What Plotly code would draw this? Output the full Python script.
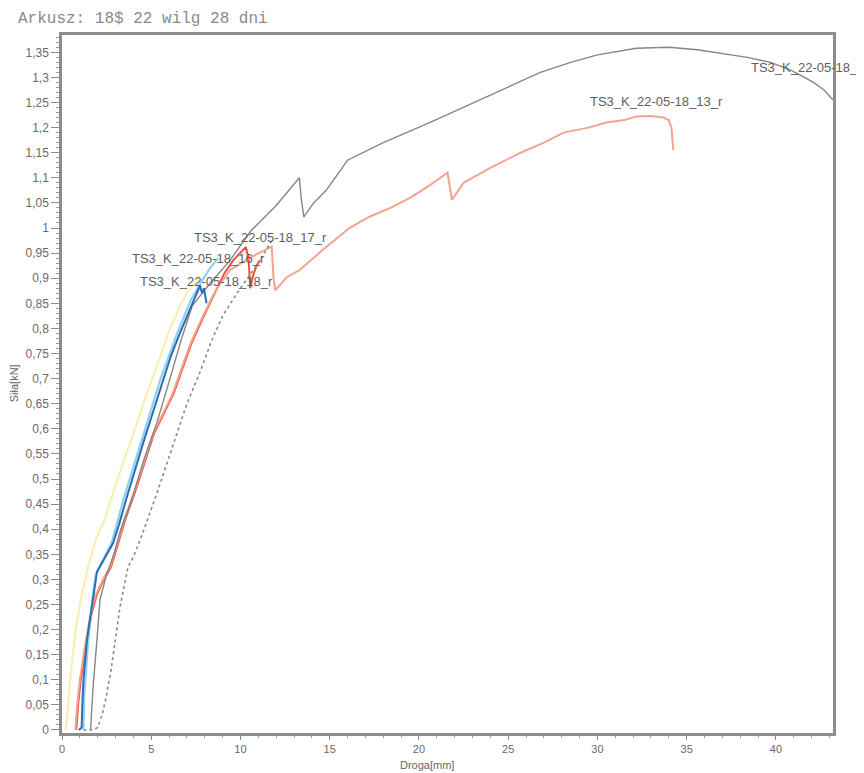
import plotly.graph_objects as go

# ---- data ----
yellow_x = [0.2, 0.3, 0.45, 0.73, 1.05, 1.46, 1.9, 2.4, 2.8, 3.4, 4.0, 4.65, 5.3, 5.95, 6.6, 7.0, 7.4, 7.7]
yellow_y = [0.0, 0.03, 0.1, 0.19, 0.26, 0.325, 0.38, 0.42, 0.465, 0.53, 0.59, 0.66, 0.723, 0.79, 0.845, 0.87, 0.89, 0.905]

red_x = [0.8, 0.9, 1.05, 1.35, 1.65, 1.95, 2.35, 2.75, 3.05, 3.55, 4.15, 5.15, 6.25, 7.25, 7.95, 8.6, 9.1, 9.6,
         10.0, 10.3, 10.45, 10.5, 10.55, 10.7, 10.9, 11.1]
red_y = [0.0, 0.05, 0.1, 0.17, 0.23, 0.27, 0.3, 0.325, 0.36, 0.42, 0.48, 0.59, 0.67, 0.77, 0.825, 0.875, 0.91,
         0.936, 0.95, 0.962, 0.94, 0.9, 0.88, 0.905, 0.925, 0.936]

salmon_x = [0.75, 0.85, 1.0, 1.3, 1.6, 1.9, 2.3, 2.7, 3.0, 3.5, 4.1, 5.1, 6.2, 7.2, 7.9, 8.6, 9.4, 10.5, 11.3,
            11.75, 11.85, 11.95, 12.6, 13.3, 14.6, 16.1, 17.2, 18.4, 19.5, 20.6, 21.6, 21.75, 21.85, 22.5, 24.0,
            25.7, 27.0, 28.1, 29.5, 30.5, 31.5, 32.2, 33.0, 33.7, 34.0, 34.15, 34.2, 34.25]
salmon_y = [0.0, 0.05, 0.1, 0.17, 0.23, 0.27, 0.3, 0.325, 0.36, 0.42, 0.48, 0.59, 0.67, 0.77, 0.825, 0.875, 0.916,
            0.94, 0.955, 0.963, 0.9, 0.876, 0.902, 0.916, 0.956, 1.0, 1.022, 1.04, 1.06, 1.085, 1.11, 1.08, 1.056,
            1.09, 1.12, 1.15, 1.17, 1.19, 1.2, 1.21, 1.215, 1.222, 1.223, 1.22, 1.215, 1.2, 1.175, 1.155]

gray_x = [1.6, 1.75, 1.96, 2.13, 2.5, 2.86, 3.3, 3.9, 4.6, 5.3, 6.05, 6.7, 7.3, 8.3, 9.4, 10.6, 12.0, 12.8, 13.3,
          13.4, 13.55, 14.1, 14.8, 16.0, 18.0, 20.6, 23.4, 25.0, 26.8, 28.5, 30.0, 32.2, 34.0, 35.6, 37.0, 38.4,
          39.7, 40.8, 41.6, 42.1, 42.7, 43.2]
gray_y = [0.0, 0.09, 0.18, 0.26, 0.31, 0.345, 0.4, 0.458, 0.54, 0.61, 0.7, 0.78, 0.845, 0.89, 0.935, 0.995, 1.045,
          1.08, 1.1, 1.06, 1.022, 1.05, 1.075, 1.135, 1.17, 1.21, 1.255, 1.28, 1.31, 1.33, 1.345, 1.358, 1.36,
          1.355, 1.348, 1.34, 1.33, 1.315, 1.3, 1.29, 1.275, 1.255]

dotgray_x = [1.2, 1.7, 2.0, 2.25, 2.5, 2.75, 2.95, 3.25, 3.7, 4.0, 4.5, 5.3, 6.2, 7.0, 7.7, 8.4, 9.0, 9.8, 10.5,
             11.1, 11.5, 11.85]
dotgray_y = [0.0, 0.0, 0.005, 0.03, 0.07, 0.12, 0.17, 0.245, 0.325, 0.345, 0.39, 0.47, 0.565, 0.65, 0.71, 0.777,
             0.825, 0.87, 0.905, 0.936, 0.96, 0.98]

lightblue_x = [1.2, 1.25, 1.45, 1.7, 1.9, 2.3, 2.8, 3.45, 4.4, 5.5, 6.45, 7.2, 7.75, 8.3, 8.75]
lightblue_y = [0.0, 0.07, 0.17, 0.26, 0.31, 0.34, 0.375, 0.46, 0.572, 0.697, 0.79, 0.855, 0.89, 0.92, 0.94]

blue_x = [0.95, 1.1, 1.15, 1.2, 1.4, 1.6, 1.75, 1.96, 2.2, 2.45, 2.86, 3.2, 3.6, 4.55, 5.1, 5.67, 6.1, 6.6, 7.0,
          7.35, 7.73, 7.85, 7.95, 8.1]
blue_y = [0.0, 0.005, 0.06, 0.1, 0.18, 0.23, 0.265, 0.315, 0.33, 0.345, 0.372, 0.41, 0.46, 0.572, 0.635, 0.697,
          0.745, 0.79, 0.825, 0.855, 0.885, 0.87, 0.88, 0.85]

label_texts = ["TS3_K_22-05-18_17_r", "TS3_K_22-05-18_16_r", "TS3_K_22-05-18_18_r",
               "TS3_K_22-05-18_13_r", "TS3_K_22-05-18_"]
label_x = [11.1, 7.67, 8.07, 33.3, 38.5]
label_y = [0.982, 0.94, 0.894, 1.253, 1.319]
label_anchor = ["center", "center", "center", "center", "left"]

x_tickvals = [0, 5, 10, 15, 20, 25, 30, 35, 40]
x_ticktext = ["0", "5", "10", "15", "20", "25", "30", "35", "40"]
y_tickvals = [0, 0.05, 0.1, 0.15, 0.2, 0.25, 0.3, 0.35, 0.4, 0.45, 0.5, 0.55, 0.6, 0.65, 0.7,
              0.75, 0.8, 0.85, 0.9, 0.95, 1.0, 1.05, 1.1, 1.15, 1.2, 1.25, 1.3, 1.35]
y_ticktext = ["0", "0,05", "0,1", "0,15", "0,2", "0,25", "0,3", "0,35", "0,4", "0,45", "0,5", "0,55", "0,6",
              "0,65", "0,7", "0,75", "0,8", "0,85", "0,9", "0,95", "1", "1,05", "1,1", "1,15", "1,2", "1,25",
              "1,3", "1,35"]

title_text = "Arkusz: 18$ 22 wilg 28 dni"
x_title = "Droga[mm]"
y_title = "Siła[kN]"

# ---- figure ----
# The page body has an 8px margin, so the figure is 8px smaller than the window.
W, H = 856, 765
fig = go.Figure()

series = [
    (yellow_x, yellow_y, "#f8f0b0", 2.2, "solid"),
    (red_x, red_y, "#f0503a", 2.0, "solid"),
    (salmon_x, salmon_y, "#f3a38e", 2.0, "solid"),
    (dotgray_x, dotgray_y, "#8a8a8a", 1.6, "dot"),
    (gray_x, gray_y, "#868686", 1.4, "solid"),
    (lightblue_x, lightblue_y, "#8fd2ee", 2.2, "solid"),
    (blue_x, blue_y, "#2e6cb6", 2.0, "solid"),
]
for xs, ys, col, w, dash in series:
    fig.add_trace(go.Scatter(x=xs, y=ys, mode="lines",
                             line=dict(color=col, width=w, dash=dash),
                             showlegend=False, hoverinfo="skip"))

for t, lx, ly, anc in zip(label_texts, label_x, label_y, label_anchor):
    fig.add_annotation(x=lx, y=ly, text=t, showarrow=False, xanchor=anc, yanchor="middle",
                       font=dict(family="Liberation Sans, Arial", size=13, color="#5e5e5e"))

fig.add_annotation(x=0.473, y=-0.0458, xref="paper", yref="paper", text=x_title, showarrow=False,
                   xanchor="center", yanchor="middle",
                   font=dict(family="Liberation Sans, Arial", size=11, color="#666"))
fig.add_annotation(x=-0.0623, y=0.501, xref="paper", yref="paper", text=y_title, showarrow=False,
                   textangle=-90, xanchor="center", yanchor="middle",
                   font=dict(family="Liberation Sans, Arial", size=11, color="#666"))

fig.update_layout(
    width=W, height=H,
    margin=dict(l=54, r=31, t=27, b=40, autoexpand=False),
    paper_bgcolor="white", plot_bgcolor="white",
    title=dict(text=title_text, x=10 / W, y=1 - 9 / H, xanchor="left", yanchor="middle",
               xref="container", yref="container",
               font=dict(family="Liberation Mono, DejaVu Sans Mono, monospace", size=16, color="#8a8a8a")),
    font=dict(family="Liberation Sans, Arial", size=12, color="#666"),
)

fig.update_xaxes(range=[0, 43.2], tickvals=x_tickvals, ticktext=x_ticktext,
                 showgrid=False, zeroline=False, automargin=False,
                 showline=True, linecolor="#8c8c8c", linewidth=2.5, mirror=True,
                 ticks="outside", ticklen=4, tickcolor="#8c8c8c", tickwidth=1,
                 minor=dict(dtick=1, ticks="outside", ticklen=2, tickcolor="#9a9a9a", showgrid=False),
                 tickfont=dict(size=11, color="#6a6a6a"))
fig.update_yaxes(range=[-0.006, 1.3845], tickvals=y_tickvals, ticktext=y_ticktext,
                 showgrid=False, zeroline=False, automargin=False,
                 showline=True, linecolor="#8c8c8c", linewidth=2.5, mirror=True,
                 ticks="outside", ticklen=8, tickcolor="#8c8c8c", tickwidth=1,
                 minor=dict(dtick=0.01, tick0=0, ticks="outside", ticklen=3, tickcolor="#9a9a9a",
                            showgrid=False),
                 tickfont=dict(size=12, color="#6a6a6a"))

fig.write_html("out.html")
